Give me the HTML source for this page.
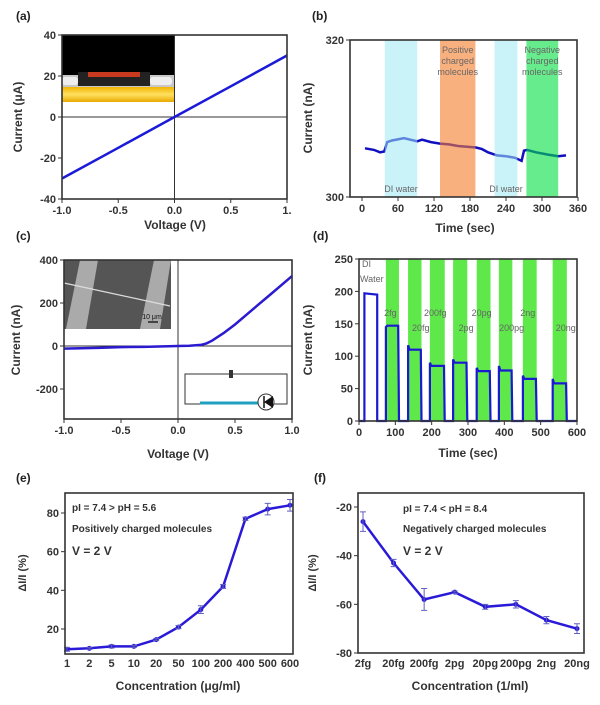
<!DOCTYPE html>
<html><head><meta charset="utf-8"><style>
html,body{margin:0;padding:0;background:#fff;}
svg{display:block;font-family:"Liberation Sans",Arial,sans-serif;}
.tk{font-size:11px;font-weight:bold;fill:#333;}
.ti{font-size:12px;font-weight:bold;fill:#333;}
.pl{font-size:12px;font-weight:bold;fill:#222;}
.an{font-size:10px;font-weight:bold;fill:#333;}
.bt{font-size:9px;fill:#666;}
</style></head><body>
<svg id="fig" width="600" height="705" viewBox="0 0 600 705">
<defs>
<linearGradient id="gold" x1="0" y1="0" x2="0" y2="1"><stop offset="0" stop-color="#f2b400"/><stop offset="0.5" stop-color="#ffe060"/><stop offset="1" stop-color="#e8a800"/></linearGradient>
</defs>
</svg>
<script>
// ---------- data ----------
// panel a
const aVolt=[-1,-0.5,0,0.5,1];
const aCurr=[-30,-15,0,15,30];
const aXTicks=[-1,-0.5,0,0.5,1];
const aXLabels=["-1.0","-0.5","0.0","0.5","1."];
const aYTicks=[40,20,0,-20,-40];
// panel b
const bTime=[5,20,30,37,42,50,70,92,100,115,130,145,160,175,190,200,210,225,240,255,266,270,275,290,310,327,340];
const bCurr=[306.2,306.0,305.7,305.8,307.0,307.2,307.5,307.1,307.3,307.0,306.8,306.7,306.5,306.4,306.3,306.1,305.7,305.3,305.2,305.0,304.6,305.9,306.0,305.7,305.4,305.2,305.3];
const bBandStart=[38,130,221,274];
const bBandEnd=[92,189,259,327];
const bXTicks=[0,60,120,180,240,300,360];
const bYTicks=[320,300];
// panel c
const cVolt=[-1,-0.7,-0.5,-0.3,0,0.1,0.2,0.25,0.3,0.4,0.5,0.6,0.7,0.8,0.9,1.0];
const cCurr=[-12,-9,-5,-4,0,1,5,12,25,60,100,145,190,235,280,325];
const cXTicks=[-1,-0.5,0,0.5,1];
const cXLabels=["-1.0","-0.5","0.0","0.5","1.0"];
const cYTicks=[400,200,0,-200];
// panel d
const dBandStart=[74,135,195,259,324,385,451,533];
const dBandEnd=[110,172,236,298,362,422,489,572];
const dStartVal=[145,117,90,95,82,85,70,65];
const dEndVal=[147,110,85,90,77,78,65,58];
const dDIStart=15, dDIEnd=50, dDIVal=[197,195];
const dLabels=["2fg","20fg","200fg","2pg","20pg","200pg","2ng","20ng"];
const dXTicks=[0,100,200,300,400,500,600];
const dYTicks=[250,200,150,100,50,0];
// panel e
const eCats=["1","2","5","10","20","50","100","200","400","500","600"];
const eVals=[9.5,10,11,11,14.5,21,30,42,77,82,84];
const eErr=[1,0.5,0.8,0.5,0.5,0.8,2,1,0.8,3,3];
const eYTicks=[80,60,40,20];
// panel f
const fCats=["2fg","20fg","200fg","2pg","20pg","200pg","2ng","20ng"];
const fVals=[-26,-43,-58,-55,-61,-60,-66.5,-70];
const fErr=[4,1.5,4.5,0.5,1,1.5,1.5,2];
const fYTicks=[-20,-40,-60,-80];

// ---------- helpers ----------
const NS='http://www.w3.org/2000/svg';
const svg=document.getElementById('fig');
function mk(tag,attrs,parent){const e=document.createElementNS(NS,tag);for(const k in attrs)e.setAttribute(k,attrs[k]);(parent||svg).appendChild(e);return e;}
function sc(d0,d1,r0,r1){return v=>r0+(v-d0)/(d1-d0)*(r1-r0);}
function txt(x,y,s,attrs){const t=mk('text',Object.assign({x:x,y:y},attrs||{}));t.textContent=s;return t;}
function grp(){return mk('g',{});}
function box(x0,y0,x1,y1,g){return mk('rect',{x:x0,y:y0,width:x1-x0,height:y1-y0,fill:'none',stroke:'#333','stroke-width':1.6},g);}
function yticks(vals,labs,sy,x0,g){vals.forEach((v,i)=>{mk('line',{x1:x0-4,x2:x0,y1:sy(v),y2:sy(v),stroke:'#333'},g);const t=txt(x0-6,sy(v)+4,labs?labs[i]:String(v),{'class':'tk','text-anchor':'end'});g.appendChild(t);});}
function xticks(vals,labs,sx,y0,g){vals.forEach((v,i)=>{mk('line',{x1:sx(v),x2:sx(v),y1:y0,y2:y0+4,stroke:'#333'},g);const t=txt(sx(v),y0+15,labs?labs[i]:String(v),{'class':'tk','text-anchor':'middle'});g.appendChild(t);});}
function ptsStr(xs,ys,sx,sy){return xs.map((x,i)=>sx(x).toFixed(1)+','+sy(ys[i]).toFixed(1)).join(' ');}
function ytitle(x,y,s,g,cls){const t=txt(x,y,s,{'class':cls||'ti','text-anchor':'middle',transform:'rotate(-90 '+x+' '+y+')'});g.appendChild(t);return t;}

// ---------- panel a ----------
const gA=grp();


const axA=sc(-1,1,62,287), ayA=sc(-40,40,199,35);
const insA=mk('g',{},gA);


mk('rect',{x:62,y:35,width:112,height:40,fill:'#000'},insA);
mk('rect',{x:62,y:75,width:112,height:12,fill:'#c8c8c8'},insA);
mk('rect',{x:62,y:77,width:16,height:8,fill:'#eee',rx:3},insA);
mk('rect',{x:150,y:77,width:22,height:8,fill:'#eee',rx:3},insA);
mk('rect',{x:78,y:72,width:72,height:14,fill:'#222'},insA);
mk('rect',{x:88,y:72,width:52,height:5,fill:'#c83a20'},insA);
mk('rect',{x:62,y:87,width:112,height:15,fill:'url(#gold)'},insA);
mk('line',{x1:62,x2:287,y1:ayA(0),y2:ayA(0),stroke:'#333'},gA);
mk('line',{x1:axA(0),x2:axA(0),y1:35,y2:199,stroke:'#333'},gA);
const lA=mk('polyline',{points:ptsStr(aVolt,aCurr,axA,ayA),fill:'none',stroke:'#1a1ad8','stroke-width':2.5},gA);


box(62,35,287,199,gA);
yticks(aYTicks,null,ayA,62,gA);
xticks(aXTicks,aXLabels,axA,199,gA);
ytitle(22,117,'Current (μA)',gA);
gA.appendChild(txt(175,229,'Voltage (V)',{'class':'ti','text-anchor':'middle'}));
gA.appendChild(txt(16,20,'(a)',{'class':'pl'}));

// ---------- panel b ----------
const gB=grp();


const axB=sc(0,360,362,578), ayB=sc(300,320,197,40);
const lB=mk('polyline',{points:ptsStr(bTime,bCurr,axB,ayB),fill:'none',stroke:'#1010c0','stroke-width':2.5},gB);


const bColors=['#9fe8f4','#f57b2a','#9fe8f4','#00e040'];
const bOp=[0.55,0.6,0.55,0.6];
bBandStart.forEach((s,i)=>{const r=mk('rect',{x:axB(s),y:40,width:axB(bBandEnd[i])-axB(s),height:157,fill:bColors[i],opacity:bOp[i]},gB);

});
[['Positive','charged','molecules',(axB(130)+axB(189))/2],['Negative','charged','molecules',(axB(274)+axB(327))/2]].forEach(a=>{[0,1,2].forEach(k=>gB.appendChild(txt(a[3],53+k*11,a[k],{'class':'bt','text-anchor':'middle'})));});
gB.appendChild(txt((axB(38)+axB(92))/2,192,'DI water',{'class':'bt','text-anchor':'middle'}));
gB.appendChild(txt((axB(221)+axB(259))/2,192,'DI water',{'class':'bt','text-anchor':'middle'}));
box(350,40,577,197,gB);
yticks(bYTicks,null,ayB,350,gB);
xticks(bXTicks,null,axB,197,gB);
ytitle(312,118,'Current (nA)',gB);
gB.appendChild(txt(465,232,'Time (sec)',{'class':'ti','text-anchor':'middle'}));
gB.appendChild(txt(312,20,'(b)',{'class':'pl'}));

// ---------- panel c ----------
const gC=grp();


const axC=sc(-1,1,64,292), ayC=sc(0,400,346,260);
const insC=mk('g',{},gC);


mk('rect',{x:64,y:260,width:107,height:69,fill:'#555'},insC);
mk('polygon',{points:'80,260 98,260 86,329 66,329',fill:'#aaa'},insC);
mk('polygon',{points:'154,260 171,260 160,329 140,329',fill:'#aaa'},insC);
mk('line',{x1:64,y1:283,x2:170,y2:306,stroke:'#ddd','stroke-width':1.2},insC);
mk('line',{x1:148,y1:322,x2:158,y2:322,stroke:'#222','stroke-width':1.5},insC);
insC.appendChild(txt(152,319,'10 μm',{'font-size':'7px',fill:'#111','text-anchor':'middle'}));
mk('line',{x1:64,x2:292,y1:ayC(0),y2:ayC(0),stroke:'#333'},gC);
mk('line',{x1:axC(0),x2:axC(0),y1:260,y2:419,stroke:'#333'},gC);
const lC=mk('polyline',{points:ptsStr(cVolt,cCurr,axC,ayC),fill:'none',stroke:'#2a1ad0','stroke-width':2.5},gC);


const circ=mk('g',{},gC);


mk('rect',{x:185,y:374,width:102,height:30,fill:'#fff',stroke:'#333','stroke-width':1},circ);
mk('rect',{x:229,y:370,width:4,height:8,fill:'#333'},circ);
mk('line',{x1:200,x2:260,y1:403,y2:403,stroke:'#1fa0c0','stroke-width':3},circ);
mk('circle',{cx:266,cy:402,r:8,fill:'#fff',stroke:'#333'},circ);
mk('polygon',{points:'264,402 273,396 273,408',fill:'#111'},circ);
mk('line',{x1:264,x2:264,y1:396,y2:408,stroke:'#111','stroke-width':1.5},circ);
box(64,260,292,419,gC);
yticks(cYTicks,null,ayC,64,gC);
xticks(cXTicks,cXLabels,axC,419,gC);
ytitle(20,340,'Current (nA)',gC);
gC.appendChild(txt(178,458,'Voltage (V)',{'class':'ti','text-anchor':'middle'}));
gC.appendChild(txt(16,240,'(c)',{'class':'pl'}));

// ---------- panel d ----------
const gD=grp();


const axD=sc(0,600,359,577), ayD=sc(0,250,421,259);
dBandStart.forEach((s,i)=>{const r=mk('rect',{x:axD(s),y:259,width:axD(dBandEnd[i])-axD(s),height:162,fill:'#5ee84a'},gD);

});
let dp=[[axD(0),ayD(0)],[axD(dDIStart),ayD(0)],[axD(dDIStart),ayD(dDIVal[0])],[axD(dDIEnd),ayD(dDIVal[1])],[axD(dDIEnd),ayD(0)]];
dBandStart.forEach((s,i)=>{dp.push([axD(s),ayD(0)],[axD(s),ayD(dStartVal[i])],[axD(s+4),ayD(dEndVal[i])],[axD(dBandEnd[i]-2),ayD(dEndVal[i])],[axD(dBandEnd[i]),ayD(0)]);});
dp.push([axD(600),ayD(0)]);
const lD=mk('polyline',{points:dp.map(p=>p[0].toFixed(1)+','+p[1].toFixed(1)).join(' '),fill:'none',stroke:'#1a1ad0','stroke-width':2.2},gD);


gD.appendChild(txt(362,267,'DI',{'class':'bt','font-size':'10px'}));
gD.appendChild(txt(360,282,'Water',{'class':'bt','font-size':'10px'}));
dLabels.forEach((s,i)=>{const mid=(dBandStart[i]+dBandEnd[i])/2;const up=(i%2===0);gD.appendChild(txt(axD(mid)+(up?-2:6),up?316:331,s,{'class':'bt','font-size':'10px','text-anchor':'middle',fill:'#444'}));});
box(359,259,577,421,gD);
yticks(dYTicks,null,ayD,359,gD);
xticks(dXTicks,null,axD,421,gD);
ytitle(312,340,'Current (nA)',gD);
gD.appendChild(txt(468,457,'Time (sec)',{'class':'ti','text-anchor':'middle'}));
gD.appendChild(txt(313,240,'(d)',{'class':'pl'}));

// ---------- panel e ----------
const gE=grp();


const axE=i=>67+i*(290-67)/(eCats.length-1), ayE=sc(20,80,629,513);
const lE=mk('polyline',{points:eVals.map((v,i)=>axE(i).toFixed(1)+','+ayE(v).toFixed(1)).join(' '),fill:'none',stroke:'#2a1ad8','stroke-width':2.5},gE);


eVals.forEach((v,i)=>{const c=mk('circle',{cx:axE(i),cy:ayE(v),r:2.5,fill:'#2a1ad8'},gE);


const x=axE(i),y1=ayE(v+eErr[i]),y2=ayE(v-eErr[i]);
mk('path',{d:'M'+x+','+y1+'V'+y2+'M'+(x-3)+','+y1+'H'+(x+3)+'M'+(x-3)+','+y2+'H'+(x+3),stroke:'#6060c0','stroke-width':1,fill:'none'},gE);});
box(65,493,293,654,gE);
yticks(eYTicks,null,ayE,65,gE);
eCats.forEach((s,i)=>gE.appendChild(txt(axE(i),667,s,{'class':'tk','text-anchor':'middle','font-size':'10px'})));
gE.appendChild(txt(72,511,'pI = 7.4 > pH = 5.6',{'class':'an'}));
gE.appendChild(txt(72,532,'Positively charged molecules',{'class':'an'}));
gE.appendChild(txt(72,555,'V = 2 V',{'class':'ti','font-size':'13px'}));
ytitle(26,573,'ΔI/I (%)',gE,'tk');
gE.appendChild(txt(178,690,'Concentration (μg/ml)',{'class':'ti','text-anchor':'middle'}));
gE.appendChild(txt(16,482,'(e)',{'class':'pl'}));

// ---------- panel f ----------
const gF=grp();


const axF=i=>363+i*(577-363)/(fCats.length-1), ayF=sc(-80,-20,653,507);
const lF=mk('polyline',{points:fVals.map((v,i)=>axF(i).toFixed(1)+','+ayF(v).toFixed(1)).join(' '),fill:'none',stroke:'#2a1ad8','stroke-width':2.5},gF);


fVals.forEach((v,i)=>{const c=mk('circle',{cx:axF(i),cy:ayF(v),r:2.5,fill:'#2a1ad8'},gF);


const x=axF(i),y1=ayF(v+fErr[i]),y2=ayF(v-fErr[i]);
mk('path',{d:'M'+x+','+y1+'V'+y2+'M'+(x-3)+','+y1+'H'+(x+3)+'M'+(x-3)+','+y2+'H'+(x+3),stroke:'#6060c0','stroke-width':1,fill:'none'},gF);});
box(358,493,584,653,gF);
yticks(fYTicks,null,ayF,358,gF);
fCats.forEach((s,i)=>gF.appendChild(txt(axF(i),667,s,{'class':'tk','text-anchor':'middle','font-size':'10px'})));
gF.appendChild(txt(403,512,'pI = 7.4 < pH = 8.4',{'class':'an'}));
gF.appendChild(txt(403,532,'Negatively charged molecules',{'class':'an'}));
gF.appendChild(txt(403,555,'V = 2 V',{'class':'ti','font-size':'13px'}));
ytitle(316,573,'ΔI/I (%)',gF,'tk');
gF.appendChild(txt(470,690,'Concentration (1/ml)',{'class':'ti','text-anchor':'middle'}));
gF.appendChild(txt(314,482,'(f)',{'class':'pl'}));
</script>
</body></html>
